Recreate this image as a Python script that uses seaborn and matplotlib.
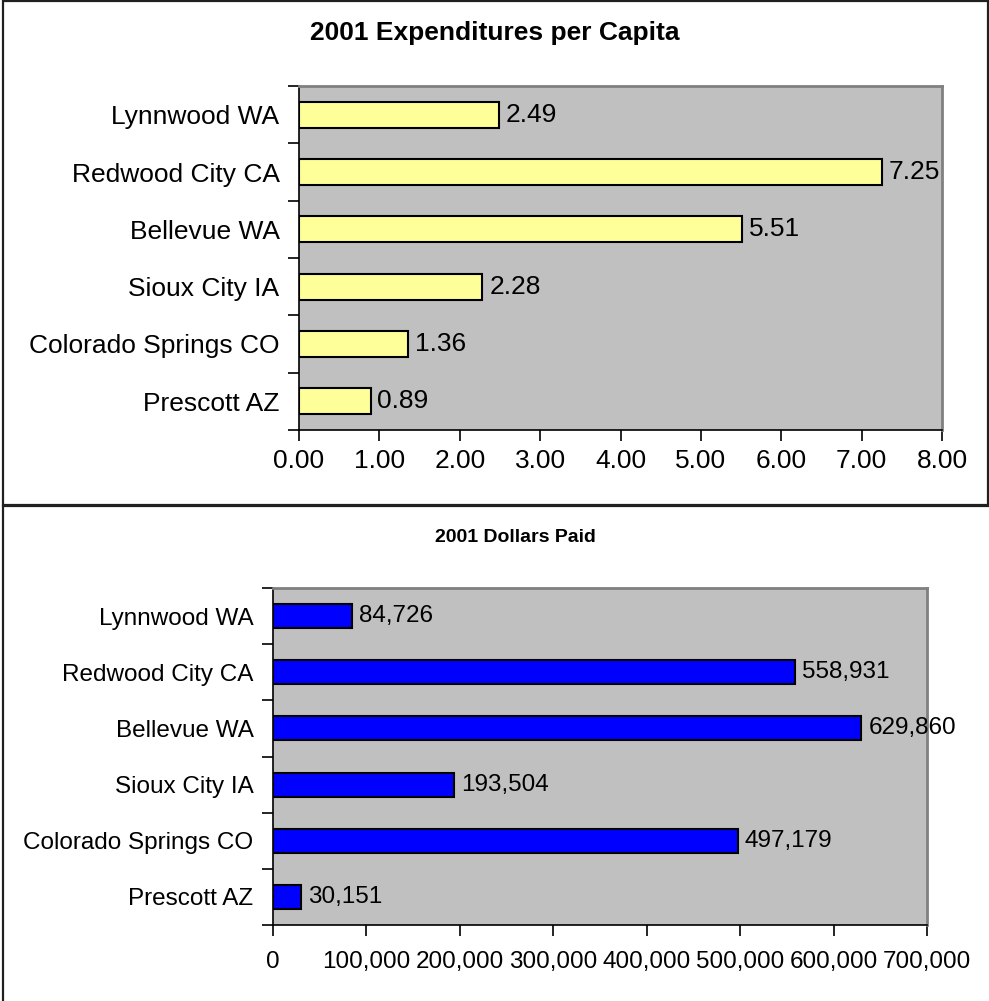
import matplotlib
matplotlib.use("Agg")
import matplotlib.pyplot as plt
from matplotlib.patches import Rectangle
import seaborn as sns
import pandas as pd

# Cities shown on both panels, top to bottom
cities = ["Lynnwood WA", "Redwood City CA", "Bellevue WA",
          "Sioux City IA", "Colorado Springs CO", "Prescott AZ"]

# 2001 expenditures per capita (dollars)
per_capita = [2.49, 7.25, 5.51, 2.28, 1.36, 0.89]

# 2001 dollars paid
dollars_paid = [84726, 558931, 629860, 193504, 497179, 30151]

per_capita_ticks = [0, 1, 2, 3, 4, 5, 6, 7, 8]
dollars_ticks = [0, 100000, 200000, 300000, 400000, 500000, 600000, 700000]

sns.set_theme(style="white")
plt.rcParams["font.family"] = ["Liberation Sans", "DejaVu Sans"]

W, H = 989, 1001
fig = plt.figure(figsize=(W / 100, H / 100), dpi=100)
fig.patch.set_facecolor("white")


def px_axes(left, top, right, bottom):
    return fig.add_axes([left / W, 1 - bottom / H, (right - left) / W, (bottom - top) / H])


def style_panel(ax, ticks, fmt, label_size, xpad):
    ax.set_facecolor("#C0C0C0")
    ax.set_xlim(ticks[0], ticks[-1])
    ax.set_ylim(len(cities) - 0.5, -0.5)
    ax.set_xlabel("")
    ax.set_ylabel("")
    ax.set_xticks(ticks)
    ax.set_xticklabels([fmt(t) for t in ticks], fontsize=label_size, color="black")
    ax.set_yticks(range(len(cities)))
    ax.set_yticklabels(cities, fontsize=label_size, color="black")
    ax.set_yticks([i - 0.5 for i in range(len(cities) + 1)], minor=True)
    ax.tick_params(axis="y", which="major", length=0, pad=14)
    ax.tick_params(axis="y", which="minor", length=8, width=1.2, color="black", direction="out", left=True)
    ax.tick_params(axis="x", which="major", length=8, width=1.2, color="black", direction="out",
                   bottom=True, pad=xpad)
    for side in ("top", "right"):
        ax.spines[side].set_color("#808080")
        ax.spines[side].set_linewidth(2)
    for side in ("left", "bottom"):
        ax.spines[side].set_color("black")
        ax.spines[side].set_linewidth(1.2)
    ax.grid(False)


# Top panel: expenditures per capita
ax1 = px_axes(299, 86, 942, 430)
df1 = pd.DataFrame({"city": cities, "value": per_capita})
sns.barplot(data=df1, x="value", y="city", color="#FFFF99", saturation=1,
            width=0.45, edgecolor="black", linewidth=1.5, ax=ax1)
style_panel(ax1, per_capita_ticks, lambda v: f"{v:.2f}", 19, 6)
ax1.bar_label(ax1.containers[0], labels=[f"{v:.2f}" for v in per_capita],
              padding=5, fontsize=19, color="black")

# Bottom panel: dollars paid
ax2 = px_axes(273, 588, 927, 925)
df2 = pd.DataFrame({"city": cities, "value": dollars_paid})
sns.barplot(data=df2, x="value", y="city", color="#0000FF", saturation=1,
            width=0.43, edgecolor="black", linewidth=1.5, ax=ax2)
style_panel(ax2, dollars_ticks, lambda v: f"{v:,}", 17.5, 11)
ax2.bar_label(ax2.containers[0], labels=[f"{v:,}" for v in dollars_paid],
              padding=5, fontsize=17.5, color="black")

# Titles
fig.text(495 / W, 1 - 33 / H, "2001 Expenditures per Capita", ha="center", va="center",
         fontsize=19, fontweight="bold", color="black")
fig.text(515 / W, 1 - 537 / H, "2001 Dollars Paid", ha="center", va="center",
         fontsize=14, fontweight="bold", color="black")

# Chart area frames
fig.add_artist(Rectangle((3 / W, 1 - 505 / H), 985 / W, 504 / H, transform=fig.transFigure,
                         fill=False, edgecolor="#202020", linewidth=1.6))
fig.add_artist(Rectangle((3 / W, 1 - 1030 / H), 1020 / W, 524 / H, transform=fig.transFigure,
                         fill=False, edgecolor="#202020", linewidth=1.6))

fig.savefig("out.png", dpi=100, facecolor="white")
